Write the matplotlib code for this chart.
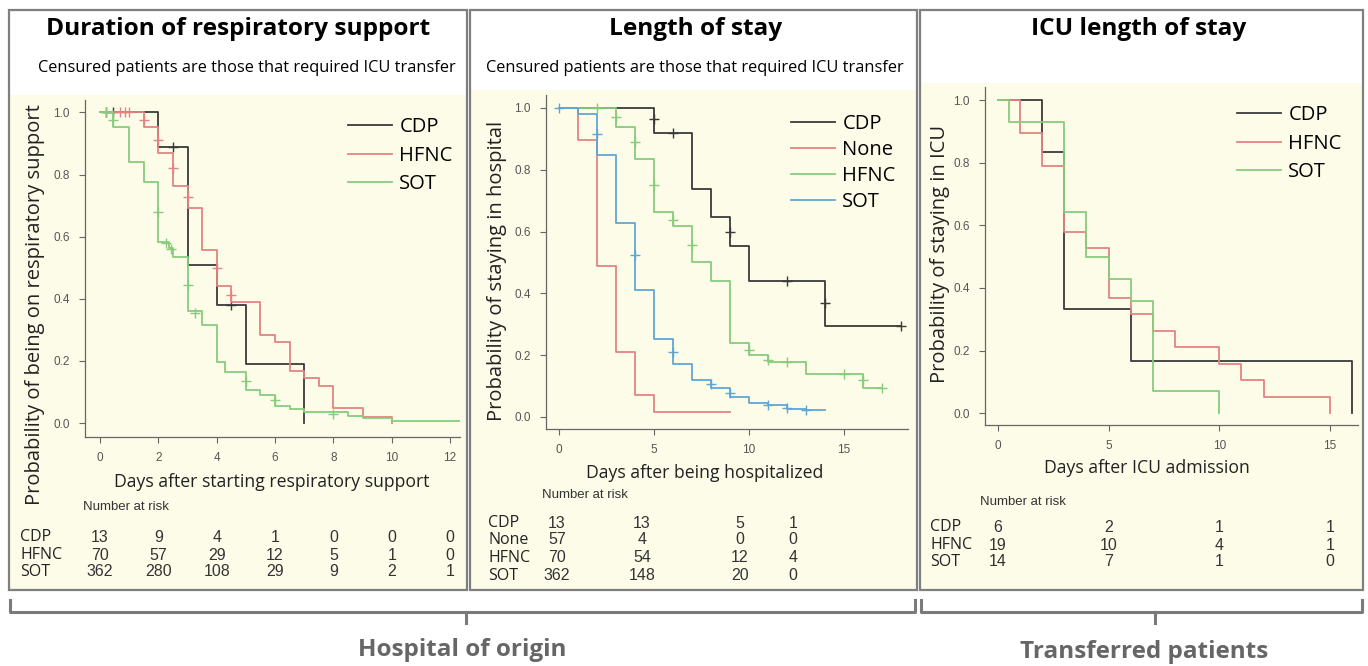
import numpy as np
import matplotlib
matplotlib.use('Agg')
import matplotlib.pyplot as plt
from matplotlib.patches import Rectangle
from matplotlib.lines import Line2D
from matplotlib import font_manager

W, H = 1368, 666

# ---------------- data ----------------
# duration of respiratory support (hospital of origin)
resp_groups = ['CDP', 'HFNC', 'SOT']
resp_cdp_t = [0, 2, 3, 4, 5, 7]
resp_cdp_s = [1.0, 0.89, 0.51, 0.38, 0.19, 0.0]
resp_cdp_ct = [0.2, 0.45, 2.5, 4.5]
resp_cdp_cs = [1.0, 1.0, 0.89, 0.38]
resp_hfnc_t = [0, 1.5, 2.0, 2.5, 3.0, 3.5, 4.0, 4.5, 5.5, 6.0, 6.5, 7.0, 7.5, 8.0, 9.0, 10.0]
resp_hfnc_s = [1.0, 0.953, 0.87, 0.763, 0.693, 0.557, 0.44, 0.39, 0.284, 0.262, 0.166,
               0.145, 0.119, 0.048, 0.019, 0.0]
resp_hfnc_ct = [0.7, 0.85, 1.0, 1.5, 2.0, 2.5, 3.0, 4.0, 4.5]
resp_hfnc_cs = [1.0, 1.0, 1.0, 0.977, 0.91, 0.82, 0.729, 0.50, 0.413]
resp_sot_t = [0, 0.45, 1.0, 1.5, 2.0, 2.35, 2.5, 3.0, 3.5, 4.0, 4.3, 5.0, 5.5, 6.0, 6.5,
              7.0, 8.5, 9.0, 10.0, 10.5]
resp_sot_s = [1.0, 0.953, 0.84, 0.776, 0.584, 0.565, 0.536, 0.36, 0.315, 0.195, 0.165,
              0.107, 0.09, 0.055, 0.045, 0.035, 0.022, 0.015, 0.008, 0.005]
resp_sot_ct = [0.2, 0.45, 2.0, 2.25, 2.45, 3.0, 3.25, 5.0, 6.0, 8.0]
resp_sot_cs = [1.0, 0.975, 0.68, 0.58, 0.56, 0.445, 0.355, 0.135, 0.075, 0.028]
resp_end = [7, 10, 12.35]
resp_risk_times = [0, 2, 4, 6, 8, 10, 12]
resp_risk_cdp = [13, 9, 4, 1, 0, 0, 0]
resp_risk_hfnc = [70, 57, 29, 12, 5, 1, 0]
resp_risk_sot = [362, 280, 108, 29, 9, 2, 1]

# length of stay (hospital of origin)
los_groups = ['CDP', 'None', 'HFNC', 'SOT']
los_cdp_t = [0, 5, 7, 8, 9, 10, 14]
los_cdp_s = [1.0, 0.92, 0.739, 0.647, 0.554, 0.44, 0.294]
los_cdp_ct = [5, 6, 9, 12, 14, 18]
los_cdp_cs = [0.963, 0.92, 0.60, 0.44, 0.369, 0.294]
los_none_t = [0, 1, 2, 3, 4, 5]
los_none_s = [1.0, 0.895, 0.489, 0.21, 0.07, 0.016]
los_none_ct = []
los_none_cs = []
los_hfnc_t = [0, 3, 4, 5, 6, 7, 8, 9, 10, 11, 13, 16]
los_hfnc_s = [1.0, 0.938, 0.834, 0.663, 0.618, 0.502, 0.44, 0.239, 0.2, 0.178, 0.14, 0.094]
los_hfnc_ct = [2, 3, 4, 5, 6, 7, 10, 11, 12, 15, 16, 17]
los_hfnc_cs = [1.0, 0.971, 0.89, 0.75, 0.639, 0.558, 0.218, 0.185, 0.178, 0.14, 0.12, 0.094]
los_sot_t = [0, 1, 2, 3, 4, 5, 6, 7, 8, 9, 10, 11, 12, 13]
los_sot_s = [1.0, 0.98, 0.849, 0.629, 0.412, 0.251, 0.17, 0.119, 0.094, 0.065, 0.046,
             0.038, 0.026, 0.022]
los_sot_ct = [0, 2, 4, 6, 8, 9, 11, 12, 13]
los_sot_cs = [1.0, 0.915, 0.523, 0.21, 0.106, 0.078, 0.04, 0.03, 0.022]
los_end = [18, 9, 17, 14]
los_risk_cdp = [13, 13, 5, 1]
los_risk_none = [57, 4, 0, 0]
los_risk_hfnc = [70, 54, 12, 4]
los_risk_sot = [362, 148, 20, 0]

# ICU length of stay (transferred patients)
icu_groups = ['CDP', 'HFNC', 'SOT']
icu_cdp_t = [0, 2, 3, 6, 16]
icu_cdp_s = [1.0, 0.833, 0.333, 0.167, 0.0]
icu_hfnc_t = [0, 1, 2, 3, 4, 5, 6, 7, 8, 10, 11, 12, 15]
icu_hfnc_s = [1.0, 0.895, 0.79, 0.579, 0.526, 0.368, 0.316, 0.263, 0.211, 0.158, 0.105,
              0.053, 0.0]
icu_sot_t = [0, 0.5, 3, 4, 5, 6, 7, 10]
icu_sot_s = [1.0, 0.929, 0.643, 0.5, 0.429, 0.357, 0.071, 0.0]
icu_end = [16, 15, 10]
icu_risk_times = [0, 5, 10, 15]
icu_risk_cdp = [6, 2, 1, 1]
icu_risk_hfnc = [19, 10, 4, 1]
icu_risk_sot = [14, 7, 1, 0]

# ---------------- style ----------------
avail = {f.name for f in font_manager.fontManager.ttflist}
NARROW = 'Liberation Sans Narrow' if 'Liberation Sans Narrow' in avail else 'Liberation Sans'
SANS = 'Open Sans'
YELLOW = '#fdfce8'
BORDER = '#7f7f7f'
DARK = '#3a3a3a'
RED = '#e38383'
GREEN = '#86cc7c'
BLUE = '#5fa6d6'
AXC = '#666666'


def fx(x):
    return x / W


def fy(y):
    return 1 - y / H


fig = plt.figure(figsize=(W / 100, H / 100), dpi=100)
fig.patch.set_facecolor('white')

# panel frames + yellow plot regions
for (x0, x1, ytop) in [(9, 467, 95), (470, 917, 90), (920, 1363, 83)]:
    fig.add_artist(Rectangle((fx(x0), fy(590)), fx(x1 - x0), (590 - ytop) / H,
                             transform=fig.transFigure, facecolor=YELLOW,
                             edgecolor='none', zorder=0))
    fig.add_artist(Rectangle((fx(x0), fy(590)), fx(x1 - x0), 580 / H,
                             transform=fig.transFigure, facecolor='none',
                             edgecolor=BORDER, lw=1.6, zorder=5))


def make_ax(l, r, t, b, xlim, ylim, xticks):
    ax = fig.add_axes([fx(l), fy(b), fx(r - l), (b - t) / H])
    ax.set_facecolor('none')
    ax.set_xlim(*xlim)
    ax.set_ylim(*ylim)
    for sp in ['top', 'right']:
        ax.spines[sp].set_visible(False)
    for sp in ['left', 'bottom']:
        ax.spines[sp].set_color(AXC)
        ax.spines[sp].set_linewidth(0.9)
    ax.set_xticks(xticks)
    ax.set_yticks([0, 0.2, 0.4, 0.6, 0.8, 1.0])
    ax.set_yticklabels(['0.0', '0.2', '0.4', '0.6', '0.8', '1.0'])
    ax.tick_params(direction='out', length=4, width=0.8, color=AXC,
                   labelsize=8.5, labelcolor='#555555', pad=7)
    for lab in ax.get_xticklabels() + ax.get_yticklabels():
        lab.set_fontfamily(NARROW)
    return ax


def km(ax, t, s, end, color, label, ct=None, cs=None, lw=1.3):
    tt = list(t) + [end]
    ss = list(s) + [s[-1]]
    ax.step(tt, ss, where='post', color=color, lw=lw, label=label, zorder=3)
    if ct:
        ax.plot(ct, cs, linestyle='none', marker='+', ms=7, mew=1.0, color=color, zorder=3)


def legend(ax, x, y, spacing):
    ax.legend(loc='upper left', bbox_to_anchor=(fx(x), fy(y)),
              bbox_transform=fig.transFigure, frameon=False,
              prop={'family': SANS, 'size': 14.5}, handlelength=2.2,
              handletextpad=0.35, labelspacing=spacing, borderpad=0, borderaxespad=0)


def risk_table(ax, xs, rows, labels, label_x, row_y):
    for lab, vals, y in zip(labels, rows, row_y):
        fig.text(fx(label_x), fy(y), lab, ha='left', va='center',
                 fontsize=11.5, family=SANS, color='#222222')
        for x, v in zip(xs, vals):
            px = ax.transData.transform((x, 0))[0]
            fig.text(px / W, fy(y), str(v), ha='center', va='center',
                     fontsize=11.5, family=NARROW, color='#333333')


# ---------------- panel 1 ----------------
ax1 = make_ax(85, 460, 100, 437, (-0.514, 12.34), (-0.045, 1.04), range(0, 13, 2))
km(ax1, resp_cdp_t, resp_cdp_s, resp_end[0], DARK, 'CDP', resp_cdp_ct, resp_cdp_cs)
km(ax1, resp_hfnc_t, resp_hfnc_s, resp_end[1], RED, 'HFNC', resp_hfnc_ct, resp_hfnc_cs)
km(ax1, resp_sot_t, resp_sot_s, resp_end[2], GREEN, 'SOT', resp_sot_ct, resp_sot_cs)
legend(ax1, 348, 117, 0.43)

fig.text(fx(238), fy(29), 'Duration of respiratory support', ha='center', va='center',
         fontsize=17.6, weight='bold', family=SANS)
fig.text(fx(247), fy(68), 'Censured patients are those that required ICU transfer',
         ha='center', va='center', fontsize=11.8, family=SANS)
fig.text(fx(35), fy(305), 'Probability of being on respiratory support', rotation=90,
         ha='center', va='center', fontsize=14.5, family=SANS, color='#222222')
fig.text(fx(272), fy(482), 'Days after starting respiratory support', ha='center',
         va='center', fontsize=12.7, family=SANS, color='#222222')
fig.text(fx(83), fy(507), 'Number at risk', ha='left', va='center', fontsize=9.5,
         family=NARROW, color='#333333')
risk_table(ax1, resp_risk_times, [resp_risk_cdp, resp_risk_hfnc, resp_risk_sot],
           resp_groups, 20, [537, 555, 572])

# ---------------- panel 2 ----------------
ax2 = make_ax(546, 908, 95, 429, (-0.684, 18.37), (-0.039, 1.042), [0, 5, 10, 15])
km(ax2, los_cdp_t, los_cdp_s, los_end[0], DARK, 'CDP', los_cdp_ct, los_cdp_cs)
km(ax2, los_none_t, los_none_s, los_end[1], RED, 'None', los_none_ct, los_none_cs)
km(ax2, los_hfnc_t, los_hfnc_s, los_end[2], GREEN, 'HFNC', los_hfnc_ct, los_hfnc_cs)
km(ax2, los_sot_t, los_sot_s, los_end[3], BLUE, 'SOT', los_sot_ct, los_sot_cs)
legend(ax2, 791, 114, 0.3)

fig.text(fx(696), fy(29), 'Length of stay', ha='center', va='center',
         fontsize=17.6, weight='bold', family=SANS)
fig.text(fx(695), fy(68), 'Censured patients are those that required ICU transfer',
         ha='center', va='center', fontsize=11.8, family=SANS)
fig.text(fx(497), fy(271), 'Probability of staying in hospital', rotation=90,
         ha='center', va='center', fontsize=14.5, family=SANS, color='#222222')
fig.text(fx(705), fy(473), 'Days after being hospitalized', ha='center',
         va='center', fontsize=12.7, family=SANS, color='#222222')
fig.text(fx(542), fy(495), 'Number at risk', ha='left', va='center', fontsize=9.5,
         family=NARROW, color='#333333')
# the printed columns sit slightly off the axis ticks in the original
los_cols = [(557 - 559) / 19, (642 - 559) / 19, (740 - 559) / 19, (793 - 559) / 19]
risk_table(ax2, los_cols, [los_risk_cdp, los_risk_none, los_risk_hfnc, los_risk_sot],
           los_groups, 488, [523, 540, 558, 576])

# ---------------- panel 3 ----------------
ax3 = make_ax(985, 1358, 87, 425, (-0.587, 16.27), (-0.038, 1.042), [0, 5, 10, 15])
km(ax3, icu_cdp_t, icu_cdp_s, icu_end[0], DARK, 'CDP')
km(ax3, icu_hfnc_t, icu_hfnc_s, icu_end[1], RED, 'HFNC')
km(ax3, icu_sot_t, icu_sot_s, icu_end[2], GREEN, 'SOT')
legend(ax3, 1237, 105, 0.43)

fig.text(fx(1139), fy(29), 'ICU length of stay', ha='center', va='center',
         fontsize=17.6, weight='bold', family=SANS)
fig.text(fx(940), fy(254), 'Probability of staying in ICU', rotation=90,
         ha='center', va='center', fontsize=14.5, family=SANS, color='#222222')
fig.text(fx(1147), fy(468), 'Days after ICU admission', ha='center',
         va='center', fontsize=12.7, family=SANS, color='#222222')
fig.text(fx(980), fy(502), 'Number at risk', ha='left', va='center', fontsize=9.5,
         family=NARROW, color='#333333')
risk_table(ax3, icu_risk_times, [icu_risk_cdp, icu_risk_hfnc, icu_risk_sot],
           icu_groups, 930, [527, 545, 562])

# ---------------- group brackets ----------------
BR = '#7a7a7a'
for (x0, x1, xm) in [(10, 915, 466), (921, 1362, 1155)]:
    fig.add_artist(Line2D([fx(x0), fx(x0), fx(x1), fx(x1)],
                          [fy(600), fy(612), fy(612), fy(600)],
                          transform=fig.transFigure, color=BR, lw=2.2))
    fig.add_artist(Line2D([fx(xm), fx(xm)], [fy(612), fy(623)],
                          transform=fig.transFigure, color=BR, lw=2.2))
fig.text(fx(462), fy(650), 'Hospital of origin', ha='center', va='center',
         fontsize=17.5, weight='bold', family=SANS, color='#666666')
fig.text(fx(1144), fy(652), 'Transferred patients', ha='center', va='center',
         fontsize=17.5, weight='bold', family=SANS, color='#666666')

fig.savefig('out.png', dpi=100)
